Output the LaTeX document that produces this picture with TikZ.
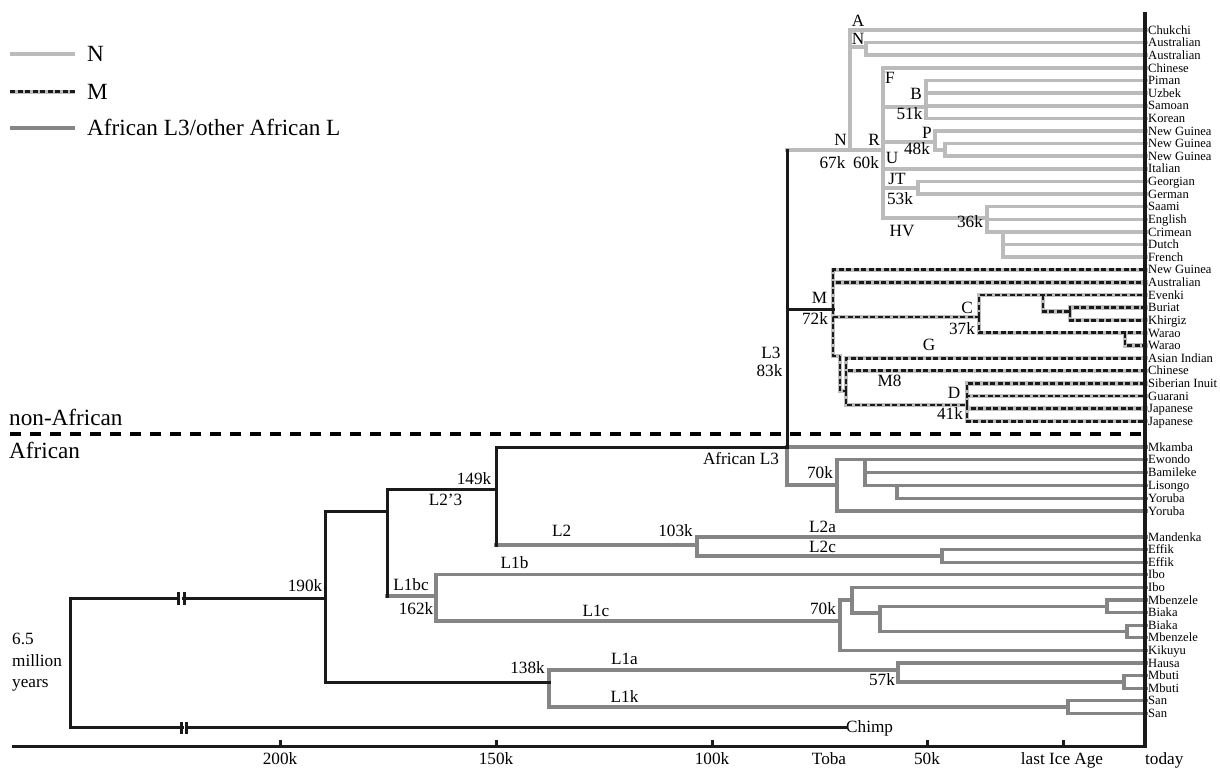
\documentclass[tikz,border=0pt]{standalone}
\usepackage{fontspec}
\setmainfont{Liberation Serif}
\newcommand\lfnt{\fontsize{12.6}{13}\selectfont}
\newcommand\kfnt{\fontsize{17.2}{19}\selectfont}
\newcommand\bfnt{\fontsize{23.2}{25}\selectfont}
\definecolor{ngrey}{HTML}{BBBBBB}
\definecolor{agrey}{HTML}{858585}
\definecolor{mgrey}{HTML}{BDBDBD}
\definecolor{ink}{HTML}{1A1A1A}
\tikzset{
  blk/.style={draw=ink, line width=3pt, line cap=rect, line join=miter},
  nl/.style={draw=ngrey, line width=3.6pt, line cap=rect, line join=miter},
  al/.style={draw=agrey, line width=3.2pt, line cap=rect, line join=miter},
  mbg/.style={draw=mgrey, line width=4.4pt, line cap=rect, line join=miter},
  mfg/.style={draw=ink, line width=2.8pt, dash pattern=on 5pt off 2.5pt, line join=miter},
  leaf/.style={anchor=west, inner xsep=2pt, inner ysep=0pt, font=\lfnt, text height=8.3pt, text depth=0pt},
  lab/.style={inner sep=0pt, font=\kfnt, text height=11.4pt, text depth=0pt},
  big/.style={inner sep=0pt, font=\bfnt, text height=15.3pt, text depth=0pt},
}
\begin{document}
\begin{tikzpicture}[x=1pt,y=-1pt]
\useasboundingbox (0,0) rectangle (1220,769);

% ---------- leaves ----------
\foreach \t [count=\i from 0] in {Chukchi,Australian,Australian,Chinese,Piman,Uzbek,Samoan,Korean,New Guinea,New Guinea,New Guinea,Italian,Georgian,German,Saami,English,Crimean,Dutch,French,New Guinea,Australian,Evenki,Buriat,Khirgiz,Warao,Warao,Asian Indian,Chinese,Siberian Inuit,Guarani,Japanese,Japanese}
  {\node[leaf] (l\i) at (1146,{30+12.62*\i}) {\t};}
\foreach \t [count=\i from 0] in {Mkamba,Ewondo,Bamileke,Lisongo,Yoruba,Yoruba}
  {\node[leaf] (a\i) at (1146,{447+12.8*\i}) {\t};}
\foreach \t [count=\i from 0] in {Mandenka,Effik,Effik,Ibo,Ibo,Mbenzele,Biaka,Biaka,Mbenzele,Kikuyu,Hausa,Mbuti,Mbuti,San,San}
  {\node[leaf] (b\i) at (1146,{537+12.6*\i}) {\t};}
\node[lab, anchor=west] (chimp) at (846,727) {Chimp};

% ---------- internal coordinates ----------
\coordinate (root) at (70,662);
\coordinate (n190) at (325,598);
\coordinate (n23) at (387,511);
\coordinate (n149) at (496,489);
\coordinate (L1bc) at (436,596);
\coordinate (c70) at (840,621);
\coordinate (c852) at (852,600);
\coordinate (c880) at (880,613);
\coordinate (mb1) at (1107,606.5);
\coordinate (mb2) at (1127,631.5);
\coordinate (n138) at (549,682);
\coordinate (k57) at (898,670);
\coordinate (mbu) at (1124,681.9);
\coordinate (san) at (1068,707);
\coordinate (L3) at (787,447);
\coordinate (n103) at (697,545);
\coordinate (ef) at (942,555.9);
\coordinate (A70) at (837,485);
\coordinate (A865) at (865,459.8);
\coordinate (A897) at (897,485.4);
\coordinate (Nn) at (850,150);
\coordinate (nA) at (866,47);
\coordinate (R) at (883,150);
\coordinate (B) at (926,107);
\coordinate (P) at (935,142);
\coordinate (P2) at (945,149.9);
\coordinate (JT) at (918,188);
\coordinate (HV) at (987,218);
\coordinate (Cr) at (1003,231.92);
\coordinate (Mn) at (833,309);
\coordinate (Gs) at (840,356);
\coordinate (M8n) at (846,391);
\coordinate (D) at (967,405);
\coordinate (C) at (979,317);
\coordinate (Ev) at (1043,295.02);
\coordinate (BK) at (1070,311.5);
\coordinate (Wa) at (1125,332.88);

% ---------- African L (grey) ----------
\draw[al] (n23 |- L1bc) -- (L1bc);
\draw[al] (L1bc) |- (b3.west);
\draw[al] (L1bc) |- (c70);
\draw[al] (c70) |- (c852);
\draw[al] (c70) |- (b9.west);
\draw[al] (c852) |- (b4.west);
\draw[al] (c852) |- (c880);
\draw[al] (c880) |- (mb1);
\draw[al] (c880) |- (mb2);
\draw[al] (mb1) |- (b5.west);
\draw[al] (mb1) |- (b6.west);
\draw[al] (mb2) |- (b7.west);
\draw[al] (mb2) |- (b8.west);
\draw[al] (n138) |- (k57);
\draw[al] (n138) |- (san);
\draw[al] (k57) |- (b10.west);
\draw[al] (k57) |- (mbu);
\draw[al] (mbu) |- (b11.west);
\draw[al] (mbu) |- (b12.west);
\draw[al] (san) |- (b13.west);
\draw[al] (san) |- (b14.west);
\draw[al] (n149 |- n103) -- (n103);
\draw[al] (n103) |- (b0.west);
\draw[al] (n103) |- (ef);
\draw[al] (ef) |- (b1.west);
\draw[al] (ef) |- (b2.west);
\draw[al] (L3) -- (a0.west);
\draw[al] (L3) |- (A70);
\draw[al] (A70) |- (a1.west);
\draw[al] (A70) |- (a5.west);
\draw[al] (A865) |- (a2.west);
\draw[al] (A865) |- (a3.west);
\draw[al] (A897) |- (a4.west);

% ---------- N (light grey) ----------
\draw[nl] (L3 |- Nn) -- (R);
\draw[nl] (Nn) |- (l0.west);
\draw[nl] (Nn) |- (nA);
\draw[nl] (nA) |- (l1.west);
\draw[nl] (nA) |- (l2.west);
\draw[nl] (R) |- (l3.west);
\draw[nl] (R) |- (B);
\draw[nl] (R) |- (P);
\draw[nl] (R) |- (l11.west);
\draw[nl] (R) |- (JT);
\draw[nl] (R) |- (HV);
\foreach \k in {4,5,6,7} {\draw[nl] (B) |- (l\k.west);}
\draw[nl] (P) |- (l8.west);
\draw[nl] (P) |- (P2);
\draw[nl] (P2) |- (l9.west);
\draw[nl] (P2) |- (l10.west);
\draw[nl] (JT) |- (l12.west);
\draw[nl] (JT) |- (l13.west);
\draw[nl] (HV) |- (l14.west);
\draw[nl] (HV) |- (l15.west);
\draw[nl] (HV) |- (l16.west);
\draw[nl] (Cr) |- (l17.west);
\draw[nl] (Cr) |- (l18.west);

% ---------- M (dashed) ----------
\foreach \s in {mbg,mfg} {
  \draw[\s] (Mn) |- (l19.west);
  \draw[\s] (Mn) |- (l20.west);
  \draw[\s] (Mn) |- (C);
  \draw[\s] (Mn) |- (Gs);
  \draw[\s] (Gs) |- (M8n);
  \draw[\s] (M8n) |- (l26.west);
  \draw[\s] (M8n) |- (l27.west);
  \draw[\s] (M8n) |- (D);
  \draw[\s] (D) |- (l28.west);
  \draw[\s] (D) |- (l29.west);
  \draw[\s] (D) |- (l30.west);
  \draw[\s] (D) |- (l31.west);
  \draw[\s] (C) |- (l21.west);
  \draw[\s] (C) |- (l24.west);
  \draw[\s] (Ev) |- (BK);
  \draw[\s] (BK) |- (l22.west);
  \draw[\s] (BK) |- (l23.west);
  \draw[\s] (Wa) |- (l25.west);
}

% ---------- black trunk ----------
\draw[blk] (root) |- (n190);
\draw[blk] (root) |- (chimp.west);
\draw[blk] (n190) |- (n23);
\draw[blk] (n190) |- (n138);
\draw[blk] (n23) |- (n149);
\draw[blk] (n23) -- (n23 |- L1bc);
\draw[blk] (n149) |- (L3);
\draw[blk] (n149) -- (n149 |- n103);
\draw[blk] (L3) -- (L3 |- Nn);
\draw[blk] (L3) |- (Mn);

% break marks
\fill[white] (180.2,591) rectangle (182.4,605);
\draw[ink, line width=3pt] (178.5,591.5) -- (178.5,604.5) (184.1,591.5) -- (184.1,604.5);
\fill[white] (183.5,720) rectangle (185.2,734);
\draw[ink, line width=3pt] (181.8,721.5) -- (181.8,734) (186.8,721.5) -- (186.8,734);

% ---------- separator ----------
\draw[black, line width=3.5pt, dash pattern=on 11pt off 9pt] (10,434) -- (1145,434);
\node[big, anchor=west] (nonaf) at (9,417.5) {non-African};
\node[big, anchor=west] (afr) at (9,450.5) {African};

% ---------- right bar and axis ----------
\draw[ink, line width=4pt] (1145,12) -- (1145,747);
\draw[ink, line width=3pt] (12,746) -- (1147,746);
\foreach \x in {280,496,712,927,1063} {\draw[ink, line width=3pt] (\x,746) -- (\x,740);}
\node[lab] (t200) at (280,759) {200k};
\node[lab] (t150) at (496,759) {150k};
\node[lab] (t100) at (712,759) {100k};
\node[lab] (ttoba) at (829,759) {Toba};
\node[lab] (t50) at (927,759) {50k};
\node[lab] (tice) at (1062,759) {last Ice Age};
\node[lab, anchor=west] (ttoday) at (1145,759) {today};

% ---------- branch labels ----------
\node[lab] (lA) at (858,21) {A};
\node[lab] (lN2) at (858,39) {N};
\node[lab] (lF) at (890,77.5) {F};
\node[lab] (lB) at (916,94) {B};
\node[lab] (l51) at (909.5,114) {51k};
\node[lab] (lP) at (927,132.5) {P};
\node[lab] (l48) at (917,149) {48k};
\node[lab] (lN) at (840.5,139.5) {N};
\node[lab] (lR) at (874,139.5) {R};
\node[lab] (l67) at (832.5,162.5) {67k};
\node[lab] (l60) at (866,162.5) {60k};
\node[lab] (lU) at (892,158) {U};
\node[lab] (lJT) at (897,179) {JT};
\node[lab] (l53) at (900,199) {53k};
\node[lab] (lHV) at (902,230.5) {HV};
\node[lab] (l36) at (970,222) {36k};
\node[lab] (lM) at (819.5,297.5) {M};
\node[lab] (l72) at (815,319) {72k};
\node[lab] (lC) at (967,307.5) {C};
\node[lab] (l37) at (962,329) {37k};
\node[lab] (lG) at (929,345) {G};
\node[lab] (lM8) at (889.5,381) {M8};
\node[lab] (lD) at (954,393) {D};
\node[lab] (l41) at (950,414) {41k};
\node[lab] (lL3) at (771,353) {L3};
\node[lab] (l83) at (769.5,370.5) {83k};
\node[lab] (lAL3) at (741,459) {African L3};
\node[lab] (l70a) at (820,472.5) {70k};
\node[lab] (lL2a) at (822.5,527) {L2a};
\node[lab] (lL2c) at (822.5,547) {L2c};
\node[lab] (l149) at (474,479) {149k};
\node[lab] (lL23) at (445.5,499.5) {L2’3};
\node[lab] (lL2) at (561.7,531) {L2};
\node[lab] (l103) at (675.5,531) {103k};
\node[lab] (lL1b) at (514.5,562.5) {L1b};
\node[lab] (lL1bc) at (411,585) {L1bc};
\node[lab] (l162) at (416,609) {162k};
\node[lab] (l190) at (305,586) {190k};
\node[lab] (lL1c) at (596,611) {L1c};
\node[lab] (l70c) at (823,608.5) {70k};
\node[lab] (l138) at (527.5,667.5) {138k};
\node[lab] (lL1a) at (624.5,659) {L1a};
\node[lab] (l57) at (882,679.5) {57k};
\node[lab] (lL1k) at (624.5,697) {L1k};
\node[lab, anchor=west] (y1) at (12,639) {6.5};
\node[lab, anchor=west] (y2) at (12,661) {million};
\node[lab, anchor=west] (y3) at (12,682) {years};

% ---------- legend ----------
\draw[ngrey, line width=3.8pt] (10,54.3) -- (75,54.3);
\draw[mgrey, line width=4.4pt] (10,91.7) -- (75,91.7);
\draw[ink, line width=2.8pt, dash pattern=on 5pt off 2.5pt] (10,91.7) -- (75,91.7);
\draw[agrey, line width=3.6pt] (10,127.7) -- (75,127.7);
\node[big, anchor=west] (legN) at (87,54.3) {N};
\node[big, anchor=west] (legM) at (87,91.7) {M};
\node[big, anchor=west] (legA) at (87,128) {African L3/other African L};
\end{tikzpicture}
\end{document}
